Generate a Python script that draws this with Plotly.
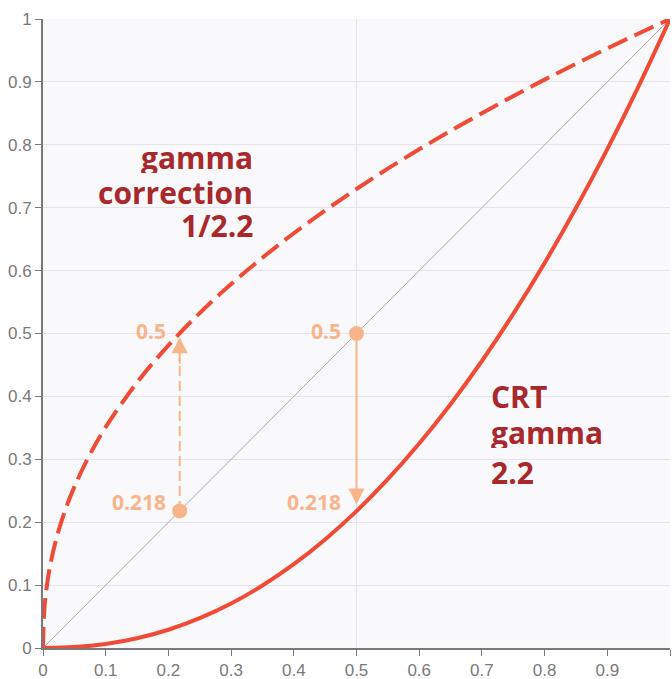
import plotly.graph_objects as go

# CRT gamma 2.2 curve
crt_x = [0, 0.05, 0.1, 0.15, 0.2, 0.25, 0.3, 0.35, 0.4, 0.45, 0.5, 0.55, 0.6,
         0.65, 0.7, 0.75, 0.8, 0.85, 0.9, 0.95, 1]
crt_y = [0, 0.0014, 0.0063, 0.0154, 0.029, 0.0474, 0.0707, 0.0993, 0.1332,
         0.1726, 0.2176, 0.2684, 0.325, 0.3876, 0.4563, 0.5311, 0.6121, 0.6994,
         0.7931, 0.8933, 1]

# gamma correction 1/2.2 curve
corr_x = [0, 0.002, 0.005, 0.01, 0.02, 0.035, 0.05, 0.075, 0.1, 0.15, 0.2, 0.25,
          0.3, 0.35, 0.4, 0.45, 0.5, 0.55, 0.6, 0.65, 0.7, 0.75, 0.8, 0.85, 0.9,
          0.95, 1]
corr_y = [0, 0.0593, 0.09, 0.1233, 0.169, 0.2179, 0.2562, 0.3081, 0.3511, 0.4222,
          0.4811, 0.5325, 0.5785, 0.6205, 0.6594, 0.6956, 0.7297, 0.7621, 0.7928,
          0.8222, 0.8503, 0.8774, 0.9036, 0.9288, 0.9532, 0.977, 1]

diag_x = [0, 1]
diag_y = [0, 1]

point_x = [0.218, 0.5]
point_y = [0.218, 0.5]

tick_vals = [0, 0.1, 0.2, 0.3, 0.4, 0.5, 0.6, 0.7, 0.8, 0.9, 1]
tick_text = ["0", "0.1", "0.2", "0.3", "0.4", "0.5", "0.6", "0.7", "0.8", "0.9", "1"]

left_lines = ["gamma", "correction", "1/2.2"]
left_line_y = [0.781, 0.725, 0.672]
right_lines = ["CRT", "gamma", "2.2"]
right_line_y = [0.401, 0.344, 0.280]

RED = "#ef4b37"
DARKRED = "#a8282c"
ORANGE = "#f8b48a"
GRID = "#e6e4ea"
AXIS = "#7a7a7a"

fig = go.Figure()

fig.add_trace(go.Scatter(x=diag_x, y=diag_y, mode="lines",
                         line=dict(color="#aaaaaa", width=1), hoverinfo="skip"))
fig.add_trace(go.Scatter(x=crt_x, y=crt_y, mode="lines", line_shape="spline",
                         line=dict(color=RED, width=4)))
fig.add_trace(go.Scatter(x=corr_x, y=corr_y, mode="lines", line_shape="spline",
                         line=dict(color=RED, width=4, dash="21px,8px")))

# dashed vertical arrow shaft
fig.add_trace(go.Scatter(x=[point_x[0], point_x[0]], y=[point_y[0], 0.46], mode="lines",
                         line=dict(color=ORANGE, width=2, dash="10px,5px")))

fig.add_trace(go.Scatter(x=point_x, y=point_y, mode="markers",
                         marker=dict(color=ORANGE, size=15)))

# arrows
fig.add_annotation(x=point_x[0], y=0.494, ax=point_x[0], ay=0.45, xref="x", yref="y",
                   axref="x", ayref="y", showarrow=True, arrowhead=2, arrowsize=1.6,
                   arrowwidth=2, arrowcolor=ORANGE, text="")
fig.add_annotation(x=point_x[1], y=0.228, ax=point_x[1], ay=point_y[1], xref="x", yref="y",
                   axref="x", ayref="y", showarrow=True, arrowhead=2, arrowsize=1.6,
                   arrowwidth=2, arrowcolor=ORANGE, text="")

lab_font = dict(family="Open Sans", size=21, color=ORANGE)
for xx, yy, tt in [(0.2, 0.504, "<b>0.5</b>"), (0.2, 0.232, "<b>0.218</b>"),
                   (0.479, 0.504, "<b>0.5</b>"), (0.479, 0.232, "<b>0.218</b>")]:
    fig.add_annotation(x=xx, y=yy, text=tt, showarrow=False, xanchor="right",
                       yanchor="middle", font=lab_font)

big_font = dict(family="Open Sans", size=30, color=DARKRED)
for t, yy in zip(left_lines, left_line_y):
    fig.add_annotation(x=0.338, y=yy, text="<b>" + t + "</b>", showarrow=False,
                       xanchor="right", yanchor="middle", font=big_font, height=32)
for t, yy in zip(right_lines, right_line_y):
    fig.add_annotation(x=0.711, y=yy, text="<b>" + t + "</b>", showarrow=False,
                       xanchor="left", yanchor="middle", font=big_font, height=32)

# single vertical grid line at 0.5
fig.add_shape(type="line", x0=0.5, x1=0.5, y0=0, y1=1, xref="x", yref="y",
              line=dict(color=GRID, width=1), layer="below")

fig.update_layout(
    width=672, height=679,
    margin=dict(l=43, r=2, t=19, b=31),
    paper_bgcolor="white", plot_bgcolor="#f9f8fb",
    showlegend=False,
    font=dict(family="Liberation Sans", size=17, color=AXIS),
)
fig.update_xaxes(range=[0, 1], tickvals=tick_vals, ticktext=tick_text, showgrid=False,
                 zeroline=False, showline=True, linecolor=AXIS, linewidth=2,
                 ticks="outside", ticklen=6, tickcolor=AXIS, tickwidth=1,
                 automargin=False, tickfont=dict(size=17, color=AXIS))
fig.update_yaxes(range=[0, 1], tickvals=tick_vals, ticktext=tick_text, showgrid=True,
                 gridcolor=GRID, zeroline=False, showline=True, linecolor=AXIS,
                 linewidth=2, ticks="outside", ticklen=6, tickcolor=AXIS, tickwidth=1,
                 automargin=False, tickfont=dict(size=17, color=AXIS))

fig.write_html("out.html", config={"displayModeBar": False},
               post_script="document.body.style.margin='0px';")
